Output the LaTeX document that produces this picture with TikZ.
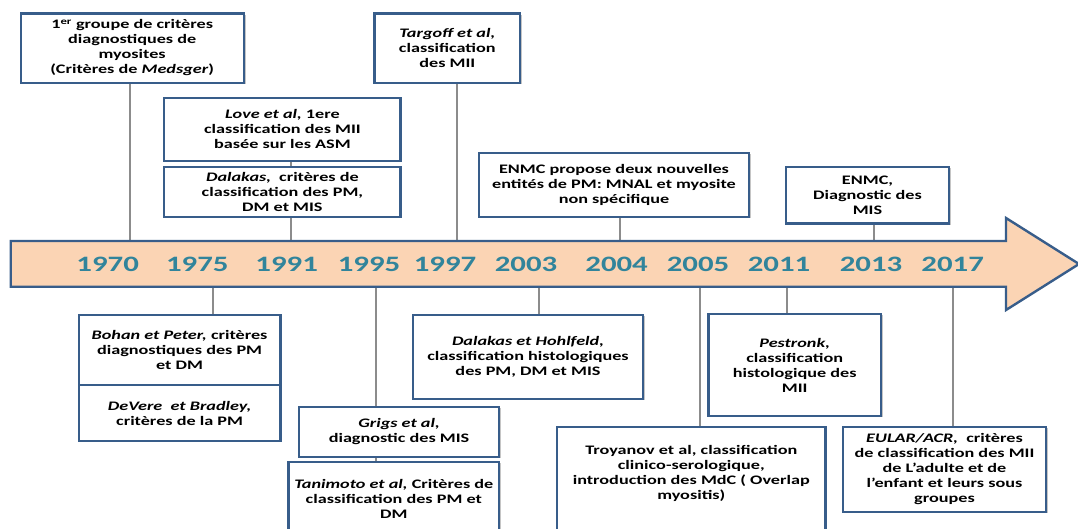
\documentclass[tikz,border=0pt]{standalone}
\usepackage{fontspec}
\setmainfont{Carlito}[FakeStretch=1.4]
\usetikzlibrary{shadows}
\definecolor{bordure}{HTML}{385D8A}
\definecolor{peche}{HTML}{FBD4B4}
\definecolor{annee}{HTML}{31849B}
\definecolor{trait}{HTML}{8C8C8C}
\begin{document}
\begin{tikzpicture}[line cap=round,line join=round,x=1pt,y=-1pt,
	box/.style={draw=bordure,line width=2.4pt,line join=miter,fill=white,inner sep=0pt,align=center,font=\fontsize{13}{15}\selectfont\bfseries,drop shadow={shadow xshift=1.8pt,shadow yshift=-1.2pt,fill=black!45,opacity=0.5}},
	txt/.style={inner sep=0pt,align=center,font=\fontsize{13}{15}\selectfont\bfseries},
	yr/.style={anchor=base,text=annee,font=\fontsize{22}{24}\selectfont\bfseries},
	conn/.style={draw=trait,line width=2pt,line cap=butt}]
		\useasboundingbox (0,0) rectangle (1078,528);
		\clip (0,0) rectangle (1078,528);
		\coordinate (h1970) at (130,241);
		\coordinate (h1991) at (290.7,241);
		\coordinate (h1997) at (457.3,241);
		\coordinate (h2004) at (619.6,241);
		\coordinate (h2013) at (873.7,241);
		\coordinate (b1975) at (212.7,286.7);
		\coordinate (b1995) at (375.7,286.7);
		\coordinate (b2003) at (539,286.7);
		\coordinate (b2005) at (699.5,286.7);
		\coordinate (b2011) at (787,286.7);
		\coordinate (b2017) at (952.7,286.7);
		\node[box,minimum width=223,minimum height=69.4] (grp) at (132.2,48) {1\textsuperscript{er} groupe de critères\\diagnostiques de\\myosites\\(Critères de \textit{Medsger})};
		\node[box,minimum width=145.4,minimum height=69.4] (targoff) at (447.3,48) {\textit{Targoff et al,}\\classification\\des MII};
		\node[box,minimum width=236.4,minimum height=63.3] (love) at (282.4,129.4) {\textit{Love et al,} 1ere\\classification des MII\\basée sur les ASM};
		\node[box,minimum width=236.4,minimum height=50.5] (dalakas) at (282.4,192) {\textit{Dalakas,}~ critères de\\classification des PM,\\DM et MIS};
		\node[box,minimum width=270,minimum height=64] (enmcA) at (614,185) {ENMC propose deux nouvelles\\entités de PM: MNAL et myosite\\non spécifique};
		\node[box,minimum width=163,minimum height=56.8] (enmcB) at (867.5,195.1) {ENMC,\\Diagnostic des\\MIS};
		\node[box,minimum width=201.8,minimum height=70] (bohan) at (179.6,350) {\textit{Bohan et Peter,} critères\\diagnostiques des PM\\et DM};
		\node[box,minimum width=201.8,minimum height=56] (devere) at (179.6,413) {\textit{DeVere~ et Bradley,}\\critères de la PM};
		\node[box,minimum width=200,minimum height=50] (grigs) at (399,431.7) {\textit{Grigs et al,}\\diagnostic des MIS};
		\node[box,minimum width=210.4,minimum height=100] (tanibox) at (393.8,512) {};
		\node[txt] (tani) at (393.8,499) {\textit{Tanimoto et al,} Critères de\\classification des PM et\\DM};
		\node[box,minimum width=230,minimum height=84] (hohl) at (528,357) {\textit{Dalakas et Hohlfeld,}\\classification histologiques\\des PM, DM et MIS};
		\node[box,minimum width=268.6,minimum height=140] (troybox) at (691.3,497) {};
		\node[txt] (troy) at (691.3,473.7) {Troyanov et al, classification\\clinico-serologique,\\introduction des MdC ( Overlap\\myositis)};
		\node[box,minimum width=172.5,minimum height=102] (pestronk) at (794.7,365) {\textit{Pestronk,}\\classification\\histologique des\\MII};
		\node[box,minimum width=203,minimum height=85] (eular) at (944.5,469.5) {\textit{EULAR/ACR,}~ critères\\de classification des MII\\de L’adulte et de\\l’enfant et leurs sous\\groupes};
		\draw[conn] (h1970) -- (h1970 |- grp.south);
		\draw[conn] (h1991) -- (h1991 |- dalakas.south);
		\draw[conn] (h1991 |- dalakas.north) -- (h1991 |- love.south);
		\draw[conn] (h1997) -- (h1997 |- targoff.south);
		\draw[conn] (h2004) -- (h2004 |- enmcA.south);
		\draw[conn] (h2013) -- (h2013 |- enmcB.south);
		\draw[conn] (b1975) -- (b1975 |- bohan.north);
		\draw[conn] (b1995) -- (b1995 |- grigs.north);
		\draw[conn] (b1995 |- grigs.south) -- (b1995 |- tanibox.north);
		\draw[conn] (b2003) -- (b2003 |- hohl.north);
		\draw[conn] (b2005) -- (b2005 |- troybox.north);
		\draw[conn] (b2011) -- (b2011 |- pestronk.north);
		\draw[conn] (b2017) -- (b2017 |- eular.north);
		\draw[draw=bordure,line width=2.4pt,line join=miter,fill=peche] (10.7,241) -- (1006,241) -- (1006,218) -- (1079,264) -- (1006,310) -- (1006,286.7) -- (10.7,286.7) -- cycle;
		\node[yr] (y1970) at (107.7,271.7) {1970};
		\node[yr] (y1975) at (197.3,271.7) {1975};
		\node[yr] (y1991) at (286.7,271.7) {1991};
		\node[yr] (y1995) at (369,271.7) {1995};
		\node[yr] (y1997) at (445,271.7) {1997};
		\node[yr] (y2003) at (526,271.7) {2003};
		\node[yr] (y2004) at (616.6,271.7) {2004};
		\node[yr] (y2005) at (698,271.7) {2005};
		\node[yr] (y2011) at (779,271.7) {2011};
		\node[yr] (y2013) at (871,271.7) {2013};
		\node[yr] (y2017) at (952.7,271.7) {2017};
	\end{tikzpicture}
\end{document}
